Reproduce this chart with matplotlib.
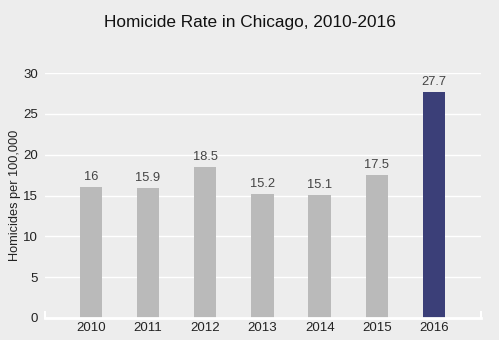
import matplotlib
matplotlib.use("Agg")
import matplotlib.pyplot as plt

years = ["2010", "2011", "2012", "2013", "2014", "2015", "2016"]
rates = [16, 15.9, 18.5, 15.2, 15.1, 17.5, 27.7]
bar_colors = ["#bababa"] * 6 + ["#3b3f78"]
yticks = [0, 5, 10, 15, 20, 25, 30]

plt.rcParams["font.family"] = ["Liberation Sans", "DejaVu Sans"]
bg = "#ededed"

fig = plt.figure(figsize=(4.99, 3.40), dpi=100, facecolor=bg)
ax = fig.add_axes([45 / 499, 1 - 318 / 340, (481 - 45) / 499, (318 - 73) / 340])
ax.set_facecolor(bg)

x = list(range(len(years)))
ax.bar(x, rates, width=0.39, color=bar_colors, zorder=3)
for xi, v in zip(x, rates):
    ax.annotate(f"{v:g}", (xi, v), xytext=(0, 3), textcoords="offset points",
                ha="center", va="bottom", fontsize=9.3, color="#444444", zorder=4)

ax.set_xlim(-0.8, 6.82)
ax.set_ylim(0, 30)
ax.set_xticks(x)
ax.set_xticklabels(years)
ax.set_yticks(yticks)
ax.tick_params(axis="both", length=0, labelsize=9.5, colors="#222222")
ax.tick_params(axis="y", pad=5)
ax.tick_params(axis="x", pad=3)
ax.grid(axis="y", color="white", linewidth=1, zorder=0)

for side in ["top", "right", "left"]:
    ax.spines[side].set_visible(False)
ax.spines["bottom"].set_color("white")
ax.spines["bottom"].set_linewidth(2)
ax.spines["bottom"].set_zorder(5)
# small end caps on the baseline
for xe in (-0.8, 6.82):
    ax.plot([xe, xe], [0, 0.7], color="white", linewidth=1.5, clip_on=False, zorder=5)

ax.set_ylabel("Homicides per 100,000", fontsize=9.2, color="#222222", labelpad=1.5)
fig.text(0.5, 1 - 22 / 340, "Homicide Rate in Chicago, 2010-2016", ha="center",
         va="center", fontsize=12.4, color="#111111")

fig.savefig("out.png", dpi=100, facecolor=bg)
